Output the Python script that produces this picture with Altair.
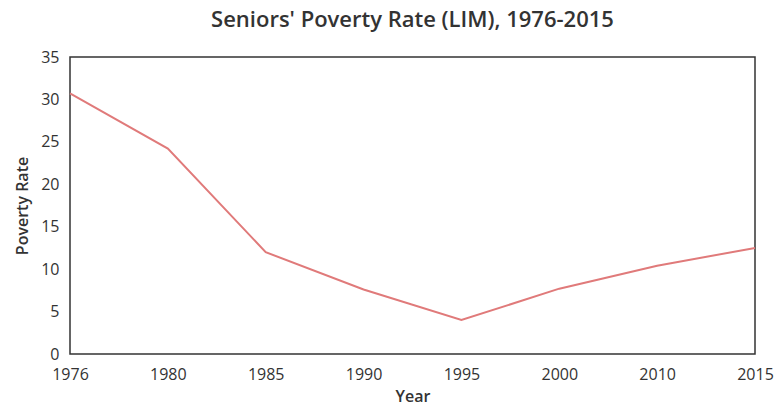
import altair as alt
import pandas as pd

years = ["1976", "1980", "1985", "1990", "1995", "2000", "2010", "2015"]
rates = [30.7, 24.2, 12.0, 7.6, 4.0, 7.7, 10.4, 12.5]

df = pd.DataFrame({"Year": years, "Poverty Rate": rates})

chart = alt.Chart(df).mark_line(color="#e07a7a", strokeWidth=2).encode(
    x=alt.X("Year:O", sort=years, scale=alt.Scale(type="point", padding=0),
            axis=alt.Axis(labelAngle=0, ticks=False, domain=False, grid=False,
                          labelPadding=12, titlePadding=6, labelFontSize=16,
                          titleFontSize=16, titleFontWeight=600)),
    y=alt.Y("Poverty Rate:Q", scale=alt.Scale(domain=[0, 35], nice=False),
            axis=alt.Axis(values=[0, 5, 10, 15, 20, 25, 30, 35], ticks=False, domain=False,
                          grid=False, labelPadding=11, titlePadding=10, labelFontSize=16,
                          titleFontSize=16, titleFontWeight=600)),
).properties(
    width=685, height=297,
    title=alt.Title("Seniors' Poverty Rate (LIM), 1976-2015", fontSize=22,
                    fontWeight=600, font="Open Sans", color="#333", offset=17),
    autosize=alt.AutoSizeParams(type="none"),
    padding={"left": 70, "top": 57, "right": 25, "bottom": 59},
).configure_view(
    stroke="#333", strokeWidth=1.5
).configure_axis(
    labelFont="Open Sans", titleFont="Open Sans", labelColor="#333", titleColor="#333"
)

chart.save("out.html", embed_options={"renderer": "svg", "actions": False})
